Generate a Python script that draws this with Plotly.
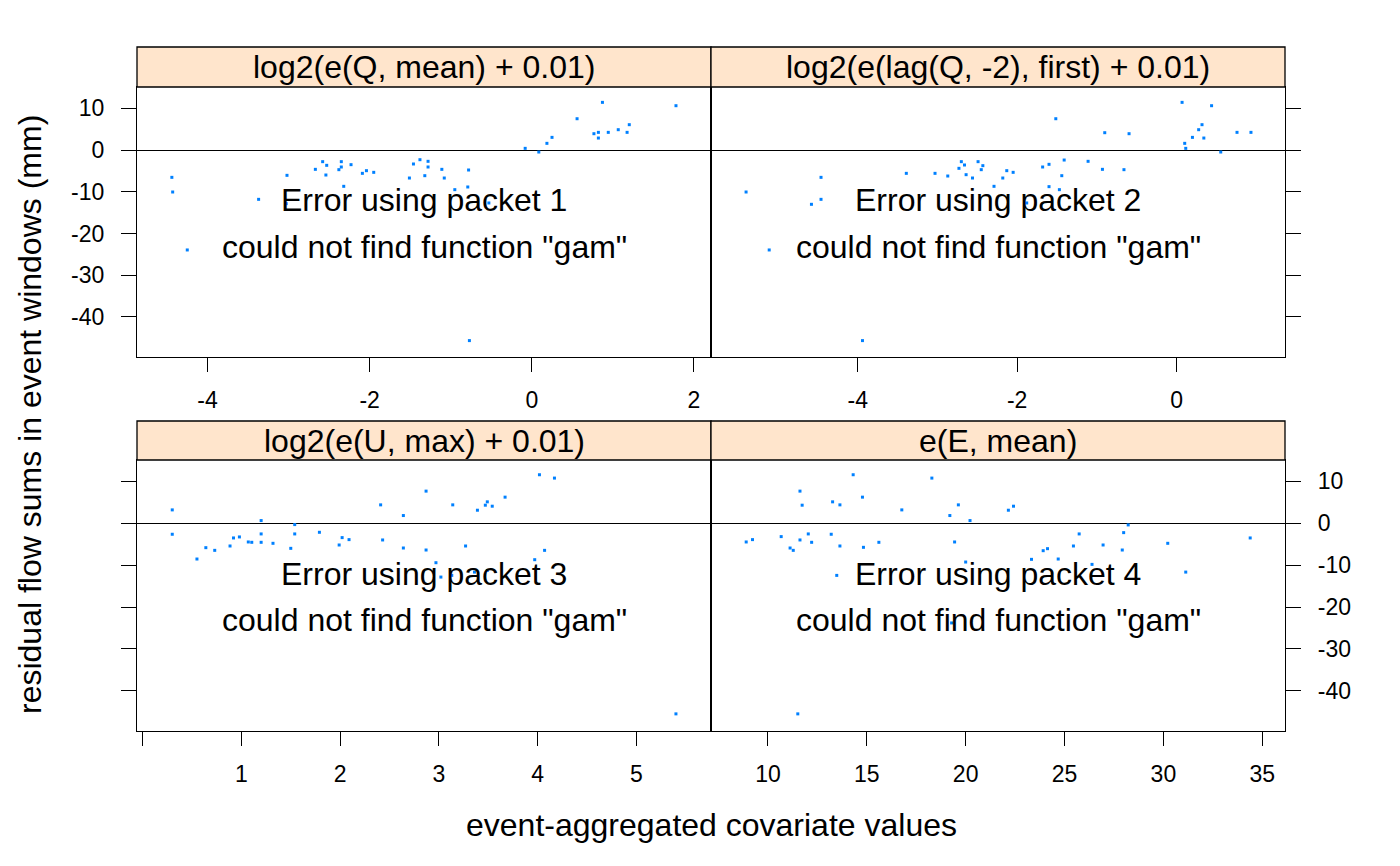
import plotly.graph_objects as go

W, H = 1400, 866

# ---- data ----
strip_titles = ["log2(e(Q, mean) + 0.01)", "log2(e(lag(Q, -2), first) + 0.01)",
                "log2(e(U, max) + 0.01)", "e(E, mean)"]

q_x = [0.871, 1.778, 0.558, 1.202, 0.766, 0.821, 0.821, 0.943, 1.066, 1.175, 0.249, 0.186, -0.082, 0.086,
       -4.44, -4.43, -3.02, -2.67, -2.58, -2.53, -2.54, -2.38, -2.35, -2.35, -2.23, -2.32, -2.09, -2.04,
       -1.95, -1.51, -1.46, -1.38, -1.28, -1.28, -1.32, -1.11, -1.08, -0.78, -0.79, -0.95, -0.53, -3.37,
       -3.03, -4.25, -0.77]
q_y = [11.42, 10.62, 7.5, 6.07, 3.91, 4.23, 2.87, 4.23, 4.87, 4.23, 3.03, 1.60, 0.40, -0.48,
       -6.55, -10.06, -6.07, -4.63, -2.79, -3.67, -5.99, -4.71, -2.79, -4.07, -3.51, -8.70, -5.59, -4.95,
       -5.35, -6.71, -3.35, -2.32, -2.71, -4.07, -6.15, -4.63, -6.71, -4.79, -8.86, -9.50, -12.69, -11.82,
       -12.85, -23.95, -45.67]

lag_x = [0.069, 0.439, -1.515, 0.319, 0.277, -0.901, -0.596, 0.199, 0.342, 0.758, 0.933, 0.102, 0.115,
         0.554, -5.40, -4.46, -4.46, -4.58, -3.39, -3.03, -2.87, -2.73, -2.70, -2.66, -2.64, -2.56, -2.49,
         -2.43, -2.45, -2.29, -2.18, -2.13, -2.05, -1.88, -1.68, -1.60, -1.60, -1.47, -1.44, -1.41, -1.11,
         -0.93, -0.66, -5.11, -3.94]
lag_y = [11.42, 10.62, 7.5, 6.07, 4.87, 4.15, 3.91, 3.03, 2.87, 4.23, 4.23, 1.60, 0.40,
         -0.48, -10.06, -6.55, -11.82, -13.01, -5.59, -5.59, -6.23, -4.39, -2.79, -3.59, -5.91, -6.71, -2.79,
         -3.75, -4.71, -8.70, -6.71, -4.95, -5.35, -12.69, -4.07, -3.43, -8.78, -9.50, -6.15, -2.40, -2.71,
         -4.63, -4.71, -23.95, -45.67]

u_x = [4.018, 4.17, 2.87, 0.30, 2.41, 3.14, 3.49, 3.54, 3.47, 3.39, 3.67, 2.64, 1.20, 1.54,
       0.30, 0.55, 0.64, 0.73, 0.885, 0.92, 0.98, 1.07, 1.105, 1.20, 1.20, 1.32, 1.50, 1.54, 1.79,
       1.99, 2.02, 2.09, 2.43, 2.64, 2.87, 3.27, 4.07, 3.97, 2.97, 3.02, 3.13, 3.36, 3.49, 5.40]
u_y = [11.58, 10.78, 7.67, 3.19, 4.39, 4.39, 5.11, 4.07, 4.31, 3.11, 6.23, 1.84, 0.64, -0.32,
       -2.63, -8.54, -5.83, -6.47, -5.43, -3.51, -3.27, -4.47, -4.55, -2.55, -4.55, -4.79, -5.99, -2.55, -2.16,
       -5.19, -3.43, -3.91, -3.99, -5.91, -6.39, -5.43, -6.47, -8.70, -9.42, -12.85, -12.45, -11.66, -11.26, -45.51]

e_x = [14.31, 18.29, 11.62, 11.73, 13.27, 13.64, 14.78, 16.77, 19.63, 19.20, 20.22, 22.16, 22.42, 28.22,
       8.90, 9.22, 10.67, 11.12, 11.28, 11.62, 12.04, 12.21, 13.20, 13.64, 13.48, 14.83, 15.61, 19.44,
       20.0, 19.29, 23.33, 23.92, 24.14, 24.68, 25.45, 25.74, 26.39, 26.95, 27.92, 27.99, 30.22, 31.13,
       34.39, 11.51]
e_y = [11.58, 10.78, 7.67, 4.31, 5.11, 4.39, 6.23, 3.19, 4.39, 1.84, 0.64, 3.11, 4.07, -0.40,
       -4.47, -3.91, -3.19, -5.91, -6.47, -3.99, -2.55, -4.55, -2.63, -5.43, -12.45, -5.75, -4.55, -4.47,
       -9.26, -23.8, -8.62, -6.55, -6.07, -8.54, -5.43, -2.55, -9.82, -5.19, -6.39, -2.24, -4.79, -11.66,
       -3.51, -45.51]

x_ranges = [[-4.87, 2.21], [-5.84, 1.36], [-0.057, 5.755], [7.12, 36.15]]
x_ticks = [[-4, -2, 0, 2], [-4, -2, 0], [0, 1, 2, 3, 4, 5], [10, 15, 20, 25, 30, 35]]
x_ticktext = [["-4", "-2", "0", "2"], ["-4", "-2", "0"], ["", "1", "2", "3", "4", "5"],
              ["10", "15", "20", "25", "30", "35"]]
y_range = [-49.6, 15.1]
y_ticks = [-40, -30, -20, -10, 0, 10]
y_ticktext = ["-40", "-30", "-20", "-10", "0", "10"]

xs = [q_x, lag_x, u_x, e_x]
ys = [q_y, lag_y, u_y, e_y]

# ---- layout geometry (pixels) ----
cols = [(137, 711), (711, 1285)]
rows = [(87, 357), (460, 731)]
strips = [(47, 87), (421, 460)]
err_y = [(0.581, 0.407), (0.578, 0.409)]

def px(x):
    return x / W

def py(y):
    return 1 - y / H

fig = go.Figure()
FONT = "Liberation Sans, Arial, Helvetica, sans-serif"
STRIP_COL = "#FFE5CC"
PT_COL = "#0080FF"
BIG = 32
TICK = 23
LW = 1.3

shapes = []
annotations = []
for i in range(4):
    r, c = divmod(i, 2)
    n = i + 1
    xa = "x" if n == 1 else f"x{n}"
    ya = "y" if n == 1 else f"y{n}"
    fig.add_trace(go.Scatter(x=xs[i], y=ys[i], mode="markers", xaxis=xa, yaxis=ya,
                             marker=dict(symbol="square", size=3, color=PT_COL, line=dict(width=0)),
                             showlegend=False, hoverinfo="skip"))
    x0, x1 = cols[c]
    y0, y1 = rows[r]
    xkey = "xaxis" if n == 1 else f"xaxis{n}"
    ykey = "yaxis" if n == 1 else f"yaxis{n}"
    fig.layout[xkey] = dict(domain=[px(x0), px(x1)], range=x_ranges[i], anchor=ya,
                            tickvals=x_ticks[i], ticktext=x_ticktext[i], ticks="outside",
                            ticklen=14, tickwidth=LW, tickcolor="black", showgrid=False,
                            zeroline=False, showline=True, linecolor="black", linewidth=LW,
                            mirror=True, ticklabelstandoff=8,
                            tickfont=dict(family=FONT, size=TICK, color="black"))
    side = "left" if c == 0 else "right"
    show_lab = (i == 0 or i == 3)
    fig.layout[ykey] = dict(domain=[py(y1), py(y0)], range=y_range, anchor=xa, side=side,
                            tickvals=y_ticks, ticktext=y_ticktext, ticks="outside", ticklen=15,
                            tickwidth=LW, tickcolor="black", showgrid=False, zeroline=True,
                            zerolinecolor="black", zerolinewidth=LW, showline=True,
                            linecolor="black", linewidth=LW, mirror=True,
                            showticklabels=show_lab, ticklabelstandoff=12,
                            tickfont=dict(family=FONT, size=TICK, color="black"))
    # strip
    s0, s1 = strips[r]
    shapes.append(dict(type="rect", xref="paper", yref="paper", x0=px(x0), x1=px(x1),
                       y0=py(s1), y1=py(s0), fillcolor=STRIP_COL,
                       line=dict(color="black", width=LW), layer="above"))
    annotations.append(dict(xref="paper", yref="paper", x=px((x0 + x1) / 2), y=py((s0 + s1) / 2),
                            text=strip_titles[i], showarrow=False, xanchor="center", yanchor="middle",
                            font=dict(family=FONT, size=BIG, color="black")))
    # error text
    e1, e2 = err_y[r]
    annotations.append(dict(xref=f"{xa} domain", yref=f"{ya} domain", x=0.5, y=e1,
                            text=f"Error using packet {n}", showarrow=False, xanchor="center",
                            yanchor="middle", font=dict(family=FONT, size=BIG, color="black")))
    annotations.append(dict(xref=f"{xa} domain", yref=f"{ya} domain", x=0.5, y=e2,
                            text='could not find function "gam"', showarrow=False, xanchor="center",
                            yanchor="middle", font=dict(family=FONT, size=BIG, color="black")))

annotations.append(dict(xref="paper", yref="paper", x=px(711), y=py(825),
                        text="event-aggregated covariate values", showarrow=False,
                        xanchor="center", yanchor="middle",
                        font=dict(family=FONT, size=BIG, color="black")))
annotations.append(dict(xref="paper", yref="paper", x=px(30), y=py(415),
                        text="residual flow sums in event windows (mm)", showarrow=False,
                        textangle=-90, xanchor="center", yanchor="middle",
                        font=dict(family=FONT, size=BIG, color="black")))

fig.update_layout(width=W, height=H, margin=dict(l=0, r=0, t=0, b=0),
                  paper_bgcolor="white", plot_bgcolor="white",
                  shapes=shapes, annotations=annotations, showlegend=False)

fig.write_html("out.html")
